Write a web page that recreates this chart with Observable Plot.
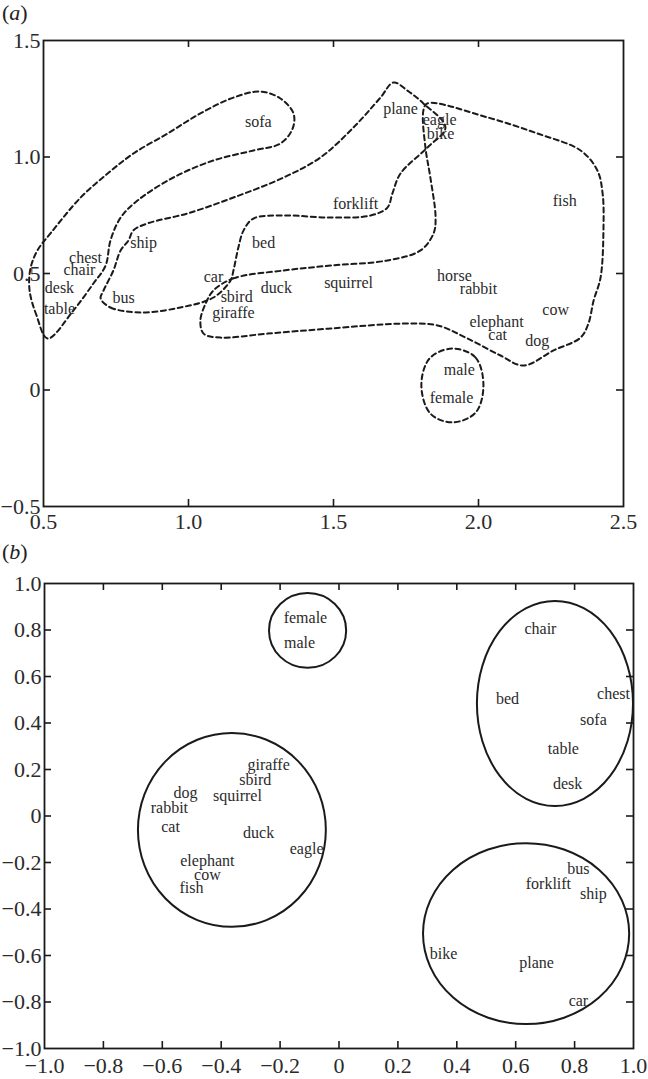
<!DOCTYPE html>
<html><head><meta charset="utf-8">
<script src="https://cdn.jsdelivr.net/npm/d3@7"></script>
<script src="https://cdn.jsdelivr.net/npm/@observablehq/plot@0.6"></script>
<style>
body{margin:0;background:#fff;}
#wrap{position:relative;width:648px;height:1079px;overflow:hidden;}
.panel{position:absolute;left:0;}
.lab{position:absolute;left:2px;font-family:"Liberation Serif",serif;font-size:22px;line-height:1;color:#222;}
svg{display:block}
</style></head><body>
<div id="wrap">
<div class="panel" id="pa" style="top:0"></div>
<div class="panel" id="pb" style="top:540px"></div>
<div class="lab" style="top:2px">(<i>a</i>)</div>
<div class="lab" style="top:541px">(<i>b</i>)</div>
</div>
<script>
// ---------- Panel (a) data ----------
const wordsA = ["sofa","plane","eagle","bike","forklift","fish","ship","bed","chest","chair","desk","table","bus","car","sbird","giraffe","duck","squirrel","horse","rabbit","elephant","cat","cow","dog","male","female"];
const xA = [1.241,1.731,1.866,1.869,1.576,2.297,0.845,1.259,0.645,0.624,0.555,0.555,0.776,1.086,1.166,1.155,1.303,1.552,1.917,2.000,2.062,2.066,2.266,2.203,1.934,1.907];
const yA = [1.152,1.208,1.161,1.101,0.800,0.813,0.633,0.633,0.569,0.517,0.440,0.350,0.397,0.487,0.401,0.333,0.440,0.461,0.491,0.436,0.294,0.238,0.345,0.212,0.088,-0.032];

const contourFurniture = [[0.514,0.221],[0.476,0.320],[0.452,0.427],[0.455,0.521],[0.479,0.599],[0.524,0.672],[0.628,0.826],[0.721,0.929],[0.810,1.015],[0.928,1.101],[1.041,1.187],[1.155,1.255],[1.248,1.281],[1.317,1.251],[1.362,1.187],[1.359,1.122],[1.317,1.058],[1.224,1.028],[1.086,0.985],[0.948,0.912],[0.824,0.813],[0.766,0.740],[0.731,0.642],[0.714,0.534],[0.672,0.457],[0.603,0.341]];
const contourVehicles = [[0.697,0.393],[0.731,0.354],[0.834,0.333],[0.972,0.354],[1.086,0.397],[1.145,0.470],[1.155,0.513],[1.172,0.612],[1.190,0.685],[1.224,0.736],[1.328,0.749],[1.490,0.740],[1.628,0.749],[1.686,0.783],[1.703,0.843],[1.731,0.929],[1.824,1.041],[1.886,1.127],[1.810,1.230],[1.755,1.285],[1.707,1.320],[1.662,1.255],[1.569,1.127],[1.455,0.998],[1.328,0.912],[1.155,0.826],[0.997,0.758],[0.859,0.715],[0.810,0.685],[0.793,0.642],[0.766,0.599],[0.741,0.513],[0.707,0.427]];
const contourAnimals = [[1.086,0.427],[1.155,0.479],[1.328,0.513],[1.490,0.534],[1.686,0.556],[1.800,0.599],[1.845,0.672],[1.852,0.740],[1.834,0.912],[1.817,1.041],[1.810,1.200],[1.824,1.230],[2.031,1.170],[2.203,1.101],[2.352,1.028],[2.410,0.942],[2.428,0.843],[2.431,0.697],[2.421,0.483],[2.397,0.384],[2.379,0.285],[2.352,0.225],[2.259,0.170],[2.155,0.105],[2.076,0.148],[1.962,0.221],[1.859,0.277],[1.741,0.285],[1.490,0.264],[1.272,0.242],[1.110,0.225],[1.052,0.242],[1.041,0.298],[1.059,0.371]];
const contourGender = [[1.910,0.178],[1.990,0.139],[2.017,0.019],[1.990,-0.097],[1.910,-0.139],[1.834,-0.101],[1.803,0.019],[1.831,0.135]];

const xTicksA = [0.5,1.0,1.5,2.0,2.5];
const yTicksA = [-0.5,0,0.5,1.0,1.5];
const xInnerA = [1.0,1.5,2.0];
const yInnerA = [0,0.5,1.0];

// ---------- Panel (b) data ----------
const wordsB = ["female","male","giraffe","sbird","dog","squirrel","rabbit","cat","duck","eagle","elephant","cow","fish","chair","bed","chest","sofa","table","desk","bus","forklift","ship","bike","plane","car"];
const xB = [-0.114,-0.134,-0.239,-0.284,-0.521,-0.345,-0.576,-0.572,-0.273,-0.110,-0.447,-0.447,-0.501,0.684,0.572,0.932,0.864,0.762,0.776,0.813,0.711,0.864,0.355,0.671,0.813];
const yB = [0.854,0.746,0.222,0.157,0.101,0.088,0.037,-0.045,-0.071,-0.140,-0.191,-0.252,-0.308,0.806,0.505,0.527,0.415,0.290,0.140,-0.226,-0.290,-0.333,-0.591,-0.630,-0.794];

const clusterCx = [-0.105,-0.362,0.735,0.637];
const clusterCy = [0.796,-0.062,0.482,-0.508];
const clusterRx = [0.131,0.319,0.265,0.350];
const clusterRy = [0.161,0.417,0.441,0.389];

const xTicksB = [-1.0,-0.8,-0.6,-0.4,-0.2,0,0.2,0.4,0.6,0.8,1.0];
const yTicksB = [-1.0,-0.8,-0.6,-0.4,-0.2,0,0.2,0.4,0.6,0.8,1.0];
const innerB = [-0.8,-0.6,-0.4,-0.2,0,0.2,0.4,0.6,0.8];

// ---------- helpers ----------
const fmt = d => d === 0 ? "0" : d3.format(".1f")(d);
const INK = "#1a1a1a";
const TXT = "#2b2b2b";
const style = {fontFamily: '"Liberation Serif", "Times New Roman", serif', fontSize: "22px", color: TXT, background: "#fff", overflow: "visible"};

function contour(pts) {
  return Plot.line(pts, {x: d => d[0], y: d => d[1], curve: "catmull-rom-closed", stroke: INK, strokeWidth: 2, strokeDasharray: "5,3.5"});
}

function ellipses(index, scales) {
  const g = d3.create("svg:g").attr("fill", "none").attr("stroke", INK).attr("stroke-width", 2);
  clusterCx.forEach((cx, i) => {
    const px = scales.x(cx), py = scales.y(clusterCy[i]);
    g.append("ellipse").attr("cx", px).attr("cy", py)
      .attr("rx", Math.abs(scales.x(cx + clusterRx[i]) - px))
      .attr("ry", Math.abs(scales.y(clusterCy[i] + clusterRy[i]) - py));
  });
  return g.node();
}

// ---------- Panel (a) ----------
const WA = 648, HA = 540, mlA = 43, mrA = 25, mtA = 40, mbA = 34;
const fwA = WA - mlA - mrA, fhA = HA - mtA - mbA, tl = 7;
const plotA = Plot.plot({
  width: WA, height: HA, marginLeft: mlA, marginRight: mrA, marginTop: mtA, marginBottom: mbA,
  style,
  x: {domain: [0.5, 2.5]},
  y: {domain: [-0.5, 1.5]},
  marks: [
    Plot.axisX(xTicksA, {tickSize: 0, tickPadding: 7, tickFormat: fmt, label: null}),
    Plot.axisY(yTicksA, {tickSize: 0, tickPadding: 3, tickFormat: fmt, label: null}),
    Plot.tickX(xInnerA, {x: d => d, insetTop: fhA - tl, stroke: INK, strokeWidth: 1.6}),
    Plot.tickX(xInnerA, {x: d => d, insetBottom: fhA - tl, stroke: INK, strokeWidth: 1.6}),
    Plot.tickY(yInnerA, {y: d => d, insetRight: fwA - tl, stroke: INK, strokeWidth: 1.6}),
    Plot.tickY(yInnerA, {y: d => d, insetLeft: fwA - tl, stroke: INK, strokeWidth: 1.6}),
    Plot.frame({stroke: INK, strokeWidth: 1.8}),
    contour(contourFurniture),
    contour(contourVehicles),
    contour(contourAnimals),
    contour(contourGender),
    Plot.text(wordsA, {x: (d, i) => xA[i], y: (d, i) => yA[i], text: d => d, fontSize: 16, fill: TXT})
  ]
});
document.getElementById("pa").append(plotA);

// ---------- Panel (b) ----------
const WB = 648, HB = 539, mlB = 44, mrB = 15, mtB = 43, mbB = 31;
const fwB = WB - mlB - mrB, fhB = HB - mtB - mbB;
const plotB = Plot.plot({
  width: WB, height: HB, marginLeft: mlB, marginRight: mrB, marginTop: mtB, marginBottom: mbB,
  style,
  x: {domain: [-1, 1]},
  y: {domain: [-1, 1]},
  marks: [
    Plot.axisX(xTicksB, {tickSize: 0, tickPadding: 9, tickFormat: fmt, label: null}),
    Plot.axisY(yTicksB, {tickSize: 0, tickPadding: 3, tickFormat: fmt, label: null}),
    Plot.tickX(innerB, {x: d => d, insetTop: fhB - tl, stroke: INK, strokeWidth: 1.6}),
    Plot.tickX(innerB, {x: d => d, insetBottom: fhB - tl, stroke: INK, strokeWidth: 1.6}),
    Plot.tickY(innerB, {y: d => d, insetRight: fwB - tl, stroke: INK, strokeWidth: 1.6}),
    Plot.tickY(innerB, {y: d => d, insetLeft: fwB - tl, stroke: INK, strokeWidth: 1.6}),
    Plot.frame({stroke: INK, strokeWidth: 1.8}),
    ellipses,
    Plot.text(wordsB, {x: (d, i) => xB[i], y: (d, i) => yB[i], text: d => d, fontSize: 16, fill: TXT})
  ]
});
document.getElementById("pb").append(plotB);
</script>
</body></html>
